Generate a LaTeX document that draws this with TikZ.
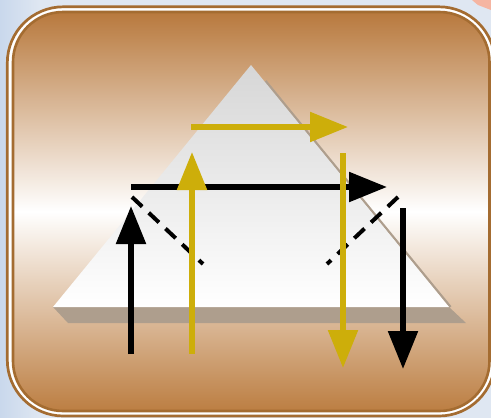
\documentclass[tikz,border=0pt]{standalone}
\usetikzlibrary{arrows.meta}
\definecolor{bgblue}{HTML}{DFE7F2}
\definecolor{bgleft}{HTML}{C9D8EC}
\definecolor{rim}{HTML}{A46C31}
\definecolor{browntop}{HTML}{B8793D}
\definecolor{brownbot}{HTML}{BC7E42}
\definecolor{shadowc}{HTML}{AE9E8D}
\definecolor{gold}{RGB}{205,174,10}
\definecolor{pinkc}{HTML}{F5B5A2}
\tikzset{
  arrowline/.style={line width=5.5pt, -{Triangle[length=38pt,width=29pt]}},
  blk/.style={arrowline, draw=black},
  ylw/.style={arrowline, draw=gold},
  dashline/.style={line width=4pt, draw=black, dash pattern=on 14pt off 9pt},
}
\begin{document}
\begin{tikzpicture}[x=1pt,y=-1pt]
\clip (0,0) rectangle (491,418);
% background
\fill[bgblue] (0,0) rectangle (491,418);
\shade[left color=bgleft, right color=bgblue] (0,0) rectangle (40,418);
\fill[pinkc] (472,0) -- (491,0) -- (491,10) -- (478,5) -- cycle;
% frame
\fill[white, rounded corners=56pt] (7.3,6.8) rectangle (495,416);
\draw[rim, line width=2.7pt, rounded corners=56pt] (7.3,6.8) rectangle (495,416);
\shade[top color=browntop, bottom color=brownbot, middle color=white, rounded corners=50pt] (13,12) rectangle (489.5,411);
\draw[rim, line width=2.6pt, rounded corners=50pt] (13,12) rectangle (489.5,411);
% pyramid shadow
\fill[shadowc] (53,307) -- (449,307) -- (466,323) -- (68,323) -- cycle;
\draw[shadowc, line width=2.4pt] (265.5,81) -- (450.5,307);
% pyramid
\shade[top color=black!16, bottom color=white] (251,65) -- (449,307) -- (53,307) -- cycle;
% named coordinates
\coordinate (bh1) at (131,187);   \coordinate (bh2) at (387,187);
\coordinate (bu1) at (131,354);   \coordinate (bu2) at (131,206);
\coordinate (bd1) at (403,208);   \coordinate (bd2) at (403,369);
\coordinate (dl1) at (132,197);   \coordinate (dl2) at (203,264);
\coordinate (dr1) at (398,197);   \coordinate (dr2) at (327,264);
\coordinate (yu1) at (192,354);   \coordinate (yu2) at (192,152);
\coordinate (yh1) at (191,127);   \coordinate (yh2) at (348,127);
\coordinate (yd1) at (343,153);   \coordinate (yd2) at (343,368);
% black rays
\draw[dashline] (dl1) -- (dl2);
\draw[dashline] (dr1) -- (dr2);
\draw[blk] (bh1) -- (bh2);
\draw[blk] (bu1) -- (bu2);
\draw[blk] (bd1) -- (bd2);
% yellow rays
\draw[ylw] (yh1) -- (yh2);
\draw[ylw] (yu1) -- (yu2);
\draw[ylw] (yd1) -- (yd2);
\end{tikzpicture}
\end{document}
